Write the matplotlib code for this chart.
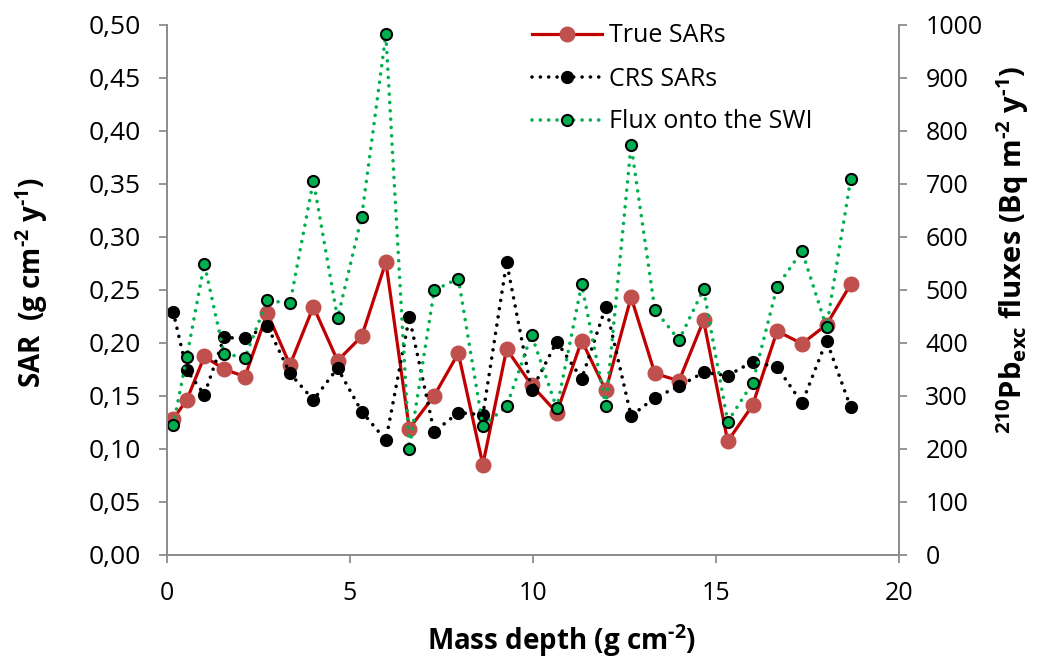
import matplotlib
matplotlib.use("Agg")
import matplotlib.pyplot as plt

plt.rcParams['font.family'] = ['Open Sans', 'DejaVu Sans']
plt.rcParams['mathtext.fontset'] = 'custom'
plt.rcParams['mathtext.rm'] = 'Open Sans:bold'
plt.rcParams['mathtext.bf'] = 'Open Sans:bold'
plt.rcParams['mathtext.default'] = 'rm'

mass_depth = [0.17, 0.54, 1.02, 1.56, 2.13, 2.74, 3.36, 4.00, 4.66, 5.32,
              5.98, 6.62, 7.30, 7.96, 8.63, 9.28, 9.96, 10.65, 11.33, 11.99,
              12.68, 13.33, 13.99, 14.66, 15.32, 16.00, 16.67, 17.35, 18.02, 18.68]
true_sar = [0.128, 0.146, 0.187, 0.175, 0.168, 0.228, 0.179, 0.234, 0.183, 0.206,
            0.276, 0.119, 0.150, 0.190, 0.085, 0.194, 0.160, 0.134, 0.202, 0.155,
            0.243, 0.171, 0.164, 0.221, 0.107, 0.141, 0.211, 0.199, 0.217, 0.255]
crs_sar = [0.229, 0.174, 0.151, 0.205, 0.204, 0.216, 0.171, 0.146, 0.176, 0.135,
           0.108, 0.224, 0.116, 0.134, 0.132, 0.276, 0.155, 0.201, 0.166, 0.234,
           0.131, 0.148, 0.159, 0.172, 0.169, 0.182, 0.177, 0.143, 0.202, 0.139]
flux_swi = [244, 373, 549, 379, 372, 480, 474, 706, 446, 638,
            982, 200, 499, 521, 243, 280, 415, 276, 510, 281,
            773, 462, 405, 501, 251, 324, 506, 573, 429, 709]

left_ticks = [0.00, 0.05, 0.10, 0.15, 0.20, 0.25, 0.30, 0.35, 0.40, 0.45, 0.50]
right_ticks = [0, 100, 200, 300, 400, 500, 600, 700, 800, 900, 1000]
x_ticks = [0, 5, 10, 15, 20]

W, H = 1038, 671
fig = plt.figure(figsize=(W/100, H/100), dpi=100)
ax = fig.add_axes([167/W, 1-554.7/H, (899-167)/W, (554.7-24.7)/H])
ax2 = ax.twinx()

gray = '#8c8c8c'
ax.plot(mass_depth, true_sar, color='#C00000', lw=2.3, marker='o', ms=10.5,
        mfc='#C0504D', mec='#C0504D', zorder=3, label='True SARs')
ax.plot(mass_depth, crs_sar, color='black', lw=2.6, linestyle=(0, (0.01, 2.3)),
        dash_capstyle='round', marker='o', ms=8.5, mfc='black', mec='black',
        zorder=4, label='CRS SARs')
ax2.plot(mass_depth, flux_swi, color='#00B050', lw=2.6, linestyle=(0, (0.01, 2.3)),
         dash_capstyle='round', marker='o', ms=8, mfc='#00B050', mec='black', mew=1.5,
         label='Flux onto the SWI')

ax.set_xlim(0, 20)
ax.set_ylim(0, 0.5)
ax2.set_ylim(0, 1000)
ax.set_xticks(x_ticks)
ax.set_yticks(left_ticks)
ax.set_yticklabels([f"{v:.2f}".replace('.', ',') for v in left_ticks])
ax2.set_yticks(right_ticks)
ax2.set_yticklabels([str(v) for v in right_ticks])

for a in (ax, ax2):
    a.spines['top'].set_visible(False)
    for s in ('left', 'right', 'bottom'):
        a.spines[s].set_color(gray)
        a.spines[s].set_linewidth(1.3)
    a.tick_params(colors=gray, labelcolor='black', width=1.3, length=6)
ax.tick_params(axis='x', pad=13, labelsize=18)
ax.tick_params(axis='y', pad=13, labelsize=19)
ax2.tick_params(axis='y', pad=13, labelsize=18)

ax.set_xlabel(r"Mass depth (g cm$^{\text{-}2}$)", fontsize=20, fontweight='bold')
ax.set_ylabel(r"SAR  (g cm$^{\text{-}2}$ y$^{\text{-}1}$)", fontsize=20, fontweight='bold')
ax2.set_ylabel(r"$^{210}$Pb$_{exc}$ fluxes (Bq m$^{\text{-}2}$ y$^{\text{-}1}$)", fontsize=21,
               fontweight='bold')
ax.xaxis.set_label_coords(562/W, 1-622/H, transform=fig.transFigure)
ax.yaxis.set_label_coords(50/W, 1-282/H, transform=fig.transFigure)
ax2.yaxis.set_label_coords(994/W, 1-250/H, transform=fig.transFigure)

h1, l1 = ax.get_legend_handles_labels()
h2, l2 = ax2.get_legend_handles_labels()
leg = ax2.legend(h1 + h2, l1 + l2, loc='upper left', bbox_to_anchor=(509/W, 1 - 1/H),
                 bbox_transform=fig.transFigure, frameon=False, fontsize=18,
                 handlelength=2.8, handletextpad=0.3, labelspacing=0.72)

fig.savefig('out.png', dpi=100)
